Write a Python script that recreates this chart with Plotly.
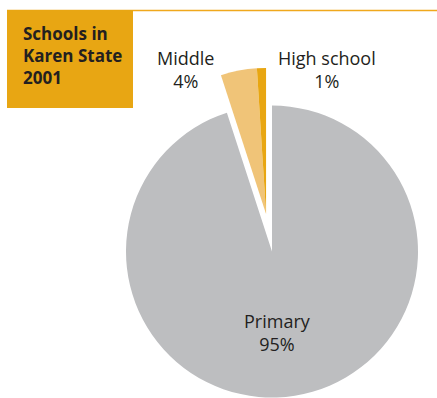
import math
import plotly.graph_objects as go

# School levels in Karen State, 2001 (share of schools, %)
levels = ["Primary", "Middle", "High school"]
shares = [95, 4, 1]
colors = ["#BDBEC0", "#F0C478", "#E8A612"]
pulled = ["Middle", "High school"]

W, H = 437, 398
cx, cy, r = 272, 251.5, 146        # pie centre and radius in pixels
pull = 0.26                         # pull-out distance as a fraction of r
label_font = dict(family="Open Sans", size=18, color="#231F20")


def domain(px, py):
    """Square pie domain (paper units) around a pixel centre."""
    return dict(x=[(px - r) / W, (px + r) / W],
                y=[1 - (py + r) / H, 1 - (py - r) / H])


# angular position of the pulled group (clockwise from 12 o'clock)
total = sum(shares)
start = sum(s for l, s in zip(levels, shares) if l not in pulled)
mid = (start + total) / 2 / total * 2 * math.pi
dx = r * pull * math.sin(mid)
dy = -r * pull * math.cos(mid)

fig = go.Figure()

# main slice
fig.add_trace(go.Pie(
    labels=levels, values=shares, sort=False, direction="clockwise", rotation=0,
    marker=dict(colors=[c if l not in pulled else "rgba(0,0,0,0)"
                        for l, c in zip(levels, colors)], line=dict(width=0)),
    textinfo="none", hoverinfo="label+percent", showlegend=False,
    domain=domain(cx, cy),
))

# pulled-out slices, drawn as a shifted copy
fig.add_trace(go.Pie(
    labels=levels, values=shares, sort=False, direction="clockwise", rotation=0,
    marker=dict(colors=[c if l in pulled else "rgba(0,0,0,0)"
                        for l, c in zip(levels, colors)], line=dict(width=0)),
    textinfo="none", hoverinfo="label+percent", showlegend=False,
    domain=domain(cx + dx, cy + dy),
))

# slice labels
label_pos = {"Primary": (277, 332), "Middle": (185, 69), "High school": (327, 69)}
for l, s in zip(levels, shares):
    x, y = label_pos[l]
    fig.add_annotation(x=x / W, y=1 - y / H, xref="paper", yref="paper",
                       text=f"{l}<br>{s}%", showarrow=False, font=label_font,
                       xanchor="center", yanchor="middle")

# title block and rule
fig.add_shape(type="line", xref="paper", yref="paper",
              x0=7 / W, x1=1, y0=1 - 10.5 / H, y1=1 - 10.5 / H,
              line=dict(color="#F0A81C", width=1.5))
fig.add_shape(type="rect", xref="paper", yref="paper",
              x0=7 / W, x1=133 / W, y0=1 - 108 / H, y1=1 - 10 / H,
              fillcolor="#E8A613", line=dict(width=0))
fig.add_annotation(x=21 / W, y=1 - 56 / H, xref="paper", yref="paper",
                   text="<b>Schools in<br>Karen State<br>2001</b>",
                   showarrow=False, align="left", xanchor="left", yanchor="middle",
                   font=dict(family="Open Sans", size=17, color="#231F20"))

fig.update_layout(width=W, height=H, margin=dict(l=0, r=0, t=0, b=0),
                  paper_bgcolor="white", plot_bgcolor="white")

fig.write_html("out.html")
